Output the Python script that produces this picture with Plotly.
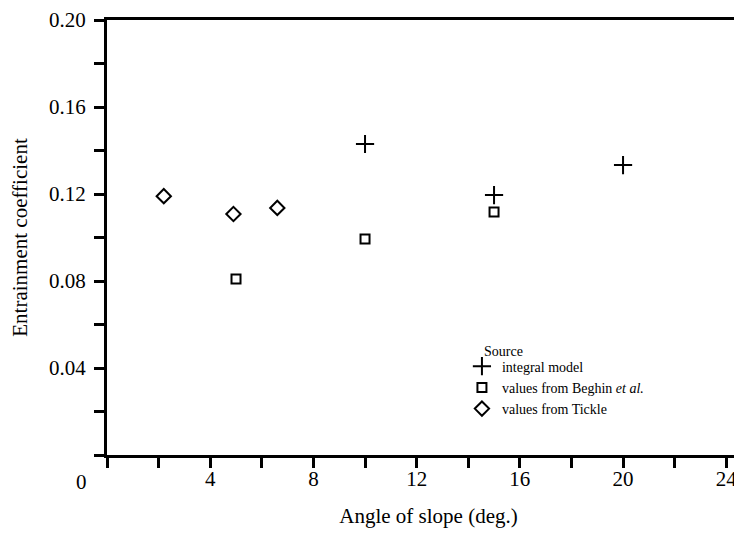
import plotly.graph_objects as go

# Data
integral_x = [10, 15, 20]
integral_y = [0.143, 0.1195, 0.1333]
beghin_x = [5, 10, 15]
beghin_y = [0.0809, 0.0993, 0.1117]
tickle_x = [2.2, 4.9, 6.6]
tickle_y = [0.119, 0.1108, 0.1136]

x_tickvals = [0, 2, 4, 6, 8, 10, 12, 14, 16, 18, 20, 22, 24]
x_ticktext = ["", "", "4", "", "8", "", "12", "", "16", "", "20", "", "24"]
y_tickvals = [0, 0.02, 0.04, 0.06, 0.08, 0.10, 0.12, 0.14, 0.16, 0.18, 0.20]
y_ticktext = ["", "", "0.04", "", "0.08", "", "0.12", "", "0.16", "", "0.20"]

FONT = "Liberation Serif, Times New Roman, serif"

fig = go.Figure()
fig.add_trace(go.Scatter(
    x=integral_x, y=integral_y, mode="markers", name="integral model",
    marker=dict(symbol="cross-thin", size=13, color="black",
                line=dict(width=2, color="black")),
))
fig.add_trace(go.Scatter(
    x=beghin_x, y=beghin_y, mode="markers", name="values from Beghin <i>et al.</i>",
    marker=dict(symbol="square-open", size=9, color="black",
                line=dict(width=2, color="black")),
))
fig.add_trace(go.Scatter(
    x=tickle_x, y=tickle_y, mode="markers", name="values from Tickle",
    marker=dict(symbol="diamond-open", size=11, color="black",
                line=dict(width=2, color="black")),
))

fig.update_layout(
    width=742, height=533,
    margin=dict(l=99, r=0, t=12, b=86),
    paper_bgcolor="white", plot_bgcolor="white",
    font=dict(family=FONT, color="black", size=16),
    showlegend=True,
    legend=dict(
        font=dict(size=14, family=FONT),
        x=0.552, y=0.24, xanchor="left", yanchor="top",
        bgcolor="rgba(0,0,0,0)", itemwidth=30,
    ),
    xaxis=dict(
        range=[0, 24.92], tickmode="array", tickvals=x_tickvals, ticktext=x_ticktext,
        ticks="outside", ticklen=10, tickwidth=2.5, tickcolor="black",
        showline=True, linewidth=3, linecolor="black", mirror=True,
        showgrid=False, zeroline=False, ticklabelstandoff=-7,
        tickfont=dict(size=21, family=FONT),
        title=dict(text="Angle of slope (deg.)", font=dict(size=21, family=FONT), standoff=19),
    ),
    yaxis=dict(
        range=[0, 0.2], tickmode="array", tickvals=y_tickvals, ticktext=y_ticktext,
        ticks="outside", ticklen=10, tickwidth=2.5, tickcolor="black",
        showline=True, linewidth=3, linecolor="black",
        showgrid=False, zeroline=False, ticklabelstandoff=4,
        tickfont=dict(size=21, family=FONT),
        title=dict(text="Entrainment coefficient", font=dict(size=21, family=FONT), standoff=16),
    ),
)

fig.add_annotation(
    text="0", xref="paper", yref="paper", x=-0.039, y=0, yshift=-27,
    showarrow=False, font=dict(size=21, family=FONT), xanchor="center", yanchor="middle",
)
fig.add_annotation(
    text="Source", xref="paper", yref="paper", x=0.583, y=0.217,
    showarrow=False, font=dict(size=14, family=FONT), xanchor="left", yanchor="bottom",
)

fig.write_html("out.html")
